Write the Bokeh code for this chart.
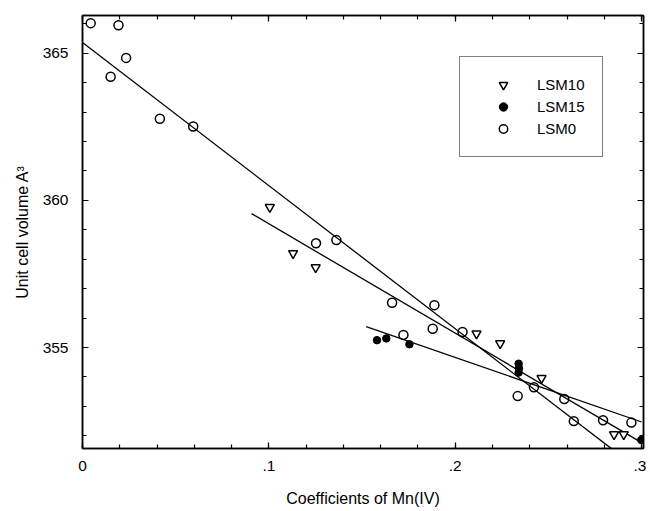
from bokeh.plotting import figure
from bokeh.models import (Range1d, LinearAxis, SingleIntervalTicker, CustomJSTickFormatter,
                          Legend, LegendItem)
from bokeh.embed import file_html
from bokeh.resources import INLINE

# ---- data ----
lsm0_x = [0.0044, 0.0193, 0.0234, 0.0151, 0.0415, 0.0594, 0.1253, 0.1362, 0.1661, 0.1722,
          0.1888, 0.1879, 0.2039, 0.2335, 0.2422, 0.2585, 0.2636, 0.2793, 0.2945]
lsm0_y = [366.02, 365.95, 364.84, 364.20, 362.77, 362.51, 358.54, 358.65, 356.52, 355.43,
          356.44, 355.64, 355.53, 353.35, 353.65, 353.25, 352.50, 352.53, 352.45]

lsm10_x = [0.1005, 0.1130, 0.1251, 0.2114, 0.2241, 0.2463, 0.2852, 0.2904]
lsm10_y = [359.77, 358.20, 357.72, 355.47, 355.14, 353.96, 352.05, 352.05]

lsm15_x = [0.1580, 0.1630, 0.1754, 0.2340, 0.2342, 0.2340, 0.2998]
lsm15_y = [355.25, 355.31, 355.11, 354.45, 354.30, 354.15, 351.86]

fit0_x = [0.0, 0.2841]
fit0_y = [365.36, 351.55]
fit10_x = [0.0907, 0.3]
fit10_y = [359.55, 351.77]
fit15_x = [0.1522, 0.3]
fit15_y = [355.71, 352.47]

FONT = "Liberation Sans"

p = figure(width=646, height=509, output_backend="svg", toolbar_location=None,
           x_range=Range1d(0, 0.301), y_range=Range1d(351.57, 366.28),
           x_axis_label="Coefficients of Mn(IV)", y_axis_label="Unit cell volume A³")
p.min_border_left = 82
p.min_border_right = 3
p.min_border_top = 15
p.min_border_bottom = 57
p.grid.visible = False
p.outline_line_color = "black"
p.outline_line_width = 1.5
p.background_fill_color = "white"
p.border_fill_color = "white"

xt = SingleIntervalTicker(interval=0.1, num_minor_ticks=5)
yt = SingleIntervalTicker(interval=5, num_minor_ticks=5)
xfmt = CustomJSTickFormatter(code="""
const v = Math.round(tick*10)/10;
if (v == 0) return '0';
return v.toFixed(1).replace(/^0/, '');
""")

p.xaxis.ticker = xt
p.yaxis.ticker = yt
p.xaxis.formatter = xfmt

for ax in (p.xaxis[0], p.yaxis[0]):
    ax.major_tick_in = 6
    ax.major_tick_out = 0
    ax.minor_tick_in = 4
    ax.minor_tick_out = 0
    ax.axis_line_width = 1.5
    ax.major_tick_line_width = 1.2
    ax.minor_tick_line_width = 1.2
    ax.major_label_text_font = FONT
    ax.major_label_text_font_size = "15.5px"
    ax.major_label_text_color = "black"
    ax.axis_label_text_font = FONT
    ax.axis_label_text_font_size = "16px"
    ax.axis_label_text_font_style = "normal"
    ax.axis_label_text_color = "black"

p.xaxis.major_label_standoff = 12
p.xaxis.axis_label_standoff = 16
p.yaxis.major_label_standoff = 14
p.yaxis.axis_label_standoff = 9

# mirrored axes with ticks only
top = LinearAxis(ticker=SingleIntervalTicker(interval=0.1, num_minor_ticks=5))
right = LinearAxis(ticker=SingleIntervalTicker(interval=5, num_minor_ticks=5))
for ax in (top, right):
    ax.major_tick_in = 6
    ax.major_tick_out = 0
    ax.minor_tick_in = 4
    ax.minor_tick_out = 0
    ax.axis_line_width = 1.5
    ax.major_tick_line_width = 1.2
    ax.minor_tick_line_width = 1.2
    ax.major_label_text_font_size = "0px"
    ax.major_label_standoff = 0
    ax.major_label_text_alpha = 0
p.add_layout(top, "above")
p.add_layout(right, "right")

# fit lines
for fx, fy in ((fit0_x, fit0_y), (fit10_x, fit10_y), (fit15_x, fit15_y)):
    p.line(fx, fy, line_color="black", line_width=1.3)

r10 = p.scatter(lsm10_x, lsm10_y, marker="inverted_triangle", size=9,
                fill_color="white", line_color="black", line_width=1.5)
r15 = p.scatter(lsm15_x, lsm15_y, marker="circle", size=7.5,
                fill_color="black", line_color="black", line_width=1)
r0 = p.scatter(lsm0_x, lsm0_y, marker="circle", size=9,
               fill_color=None, line_color="black", line_width=1.5)

legend = Legend(items=[LegendItem(label="LSM10", renderers=[r10]),
                       LegendItem(label="LSM15", renderers=[r15]),
                       LegendItem(label="LSM0", renderers=[r0])],
                location=(377, 291))
legend.padding = 17
legend.spacing = 1
legend.glyph_width = 52
legend.glyph_height = 21
legend.label_height = 21
legend.label_standoff = 8
legend.label_text_font = FONT
legend.label_text_font_size = "15px"
legend.label_text_color = "black"
legend.border_line_color = "black"
legend.border_line_width = 1.5
legend.background_fill_alpha = 1
legend.margin = 0
p.add_layout(legend, "center")

open("out.html", "w").write(file_html(p, INLINE))
